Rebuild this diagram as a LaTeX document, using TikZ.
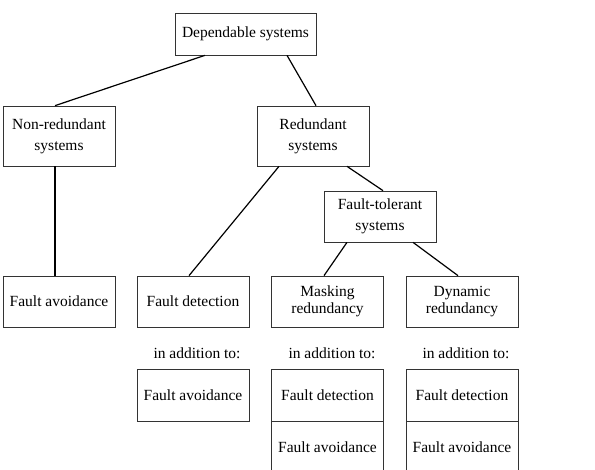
\documentclass[tikz,border=0pt]{standalone}
\usepackage{fontspec}
\setmainfont{Liberation Serif}
\begin{document}
\begin{tikzpicture}[x=1pt,y=-1pt,
  box/.style={draw=black!80,line width=0.7pt,minimum width=112pt,inner sep=0pt,align=center,font=\fontsize{15.5}{21}\selectfont},
  tight/.style={font=\fontsize{15.5}{17.5}\selectfont},
  lbl/.style={inner sep=0pt,font=\fontsize{15.5}{21}\selectfont},
  conn/.style={line width=1.2pt}]
\useasboundingbox (0,0) rectangle (595,470);
\node[box,minimum width=141pt,minimum height=42pt] (dep) at (245.5,34) {Dependable systems};
\node[box,minimum height=60pt] (non) at (59,136) {Non-redundant\\systems};
\node[box,minimum height=60pt] (red) at (313,136) {Redundant\\systems};
\node[box,minimum height=51pt] (ft) at (380,216.5) {Fault-tolerant\\systems};
\node[box,minimum height=51pt] (fa) at (59,301.5) {Fault avoidance};
\node[box,minimum height=51pt] (fd) at (193,301.5) {Fault detection};
\node[box,tight,minimum height=51pt] (mask) at (327.5,301.5) {Masking\\redundancy};
\node[box,tight,minimum height=51pt] (dyn) at (462,301.5) {Dynamic\\redundancy};
\node[lbl] (ia1) at (197,353) {in addition to:};
\node[lbl] (ia2) at (332,353) {in addition to:};
\node[lbl] (ia3) at (466,353) {in addition to:};
\node[box,minimum height=52pt] (fd2) at (193,395) {Fault avoidance};
\node[box,minimum height=52pt] (m1) at (327.5,395) {Fault detection};
\node[box,minimum height=52pt] (m2) at (327.5,447) {Fault avoidance};
\node[box,minimum height=52pt] (d1) at (462,395) {Fault detection};
\node[box,minimum height=52pt] (d2) at (462,447) {Fault avoidance};
\draw[conn] ([xshift=-40.5pt]dep.south) -- ([xshift=-4pt]non.north);
\draw[conn] ([xshift=41.5pt]dep.south) -- ([xshift=3pt]red.north);
\draw[conn] ([xshift=-4pt]non.south) -- ([xshift=-4pt]fa.north);
\draw[conn] ([xshift=-34pt]red.south) -- ([xshift=-4pt]fd.north);
\draw[conn] ([xshift=34pt]red.south) -- ([xshift=3pt]ft.north);
\draw[conn] ([xshift=-33pt]ft.south) -- ([xshift=-3.5pt]mask.north);
\draw[conn] ([xshift=33pt]ft.south) -- ([xshift=-4pt]dyn.north);
\end{tikzpicture}
\end{document}
